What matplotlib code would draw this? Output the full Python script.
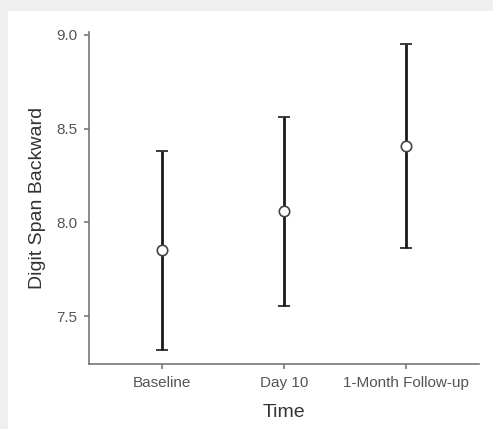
import matplotlib
matplotlib.use("Agg")
import matplotlib.pyplot as plt
from matplotlib.patches import Rectangle

categories = ["Baseline", "Day 10", "1-Month Follow-up"]
means = [7.85, 8.06, 8.405]
upper = [8.38, 8.56, 8.95]
lower = [7.32, 7.553, 7.865]
yticks = [7.5, 8.0, 8.5, 9.0]

plt.rcParams['font.family'] = ['Liberation Sans', 'DejaVu Sans']

fig = plt.figure(figsize=(4.93, 4.29), dpi=100, facecolor="#efefef")
bg = Rectangle((8/493, 0), 1, 1 - 11/429, transform=fig.transFigure,
               facecolor="white", edgecolor="none", zorder=-10)
fig.add_artist(bg)
ax = fig.add_axes([89/493, 1 - 364/429, (479-89)/493, (364-32)/429])
ax.set_zorder(1)
ax.set_facecolor("none")

x = list(range(len(categories)))
yerr = [[m - l for m, l in zip(means, lower)], [u - m for u, m in zip(upper, means)]]
ax.errorbar(x, means, yerr=yerr, fmt='o', color='#1a1a1a', ecolor='#1a1a1a',
            elinewidth=2.0, capsize=4, capthick=2.0,
            markerfacecolor='white', markeredgecolor='#444444', markersize=7.5,
            markeredgewidth=1.2, zorder=3)

ax.set_xlim(-0.6, 2.6)
ax.set_ylim(7.244, 9.016)
ax.set_xticks(x)
ax.set_xticklabels(categories)
ax.set_yticks(yticks)
ax.set_yticklabels([f"{v:.1f}" for v in yticks])

for s in ["top", "right"]:
    ax.spines[s].set_visible(False)
for s in ["left", "bottom"]:
    ax.spines[s].set_color("#777777")
    ax.spines[s].set_linewidth(1.2)
ax.tick_params(axis='both', colors='#777777', labelcolor='#555555', labelsize=11,
               length=3.5, width=1.2, pad=5)
ax.set_xlabel("Time", fontsize=14, color='#333333', labelpad=10)
ax.set_ylabel("Digit Span Backward", fontsize=14, color='#333333', labelpad=7.5)

fig.savefig("out.png", dpi=100, facecolor=fig.get_facecolor())
